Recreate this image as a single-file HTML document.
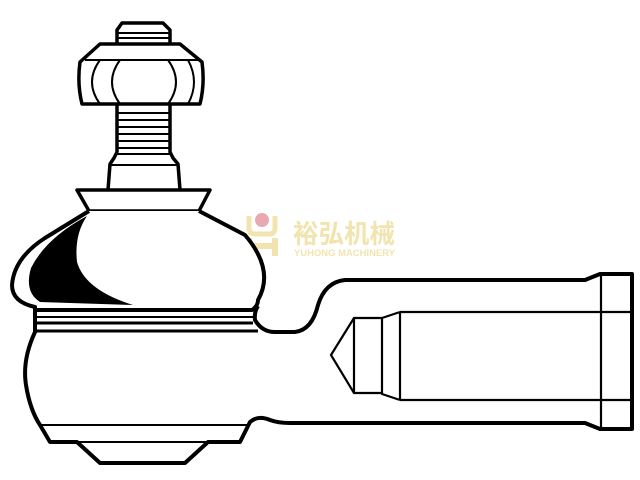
<!DOCTYPE html>
<html><head><meta charset="utf-8"><style>html,body{margin:0;padding:0;background:#fff;}svg{display:block}</style></head>
<body>
<svg width="640" height="480" viewBox="0 0 640 480" xmlns="http://www.w3.org/2000/svg">
<rect width="640" height="480" fill="#fff"/>
<g opacity="0.9">
<circle cx="262" cy="220" r="7" fill="#e6a1a8"/>
<path d="M249 216 v12 q0 6 6 6 h14 q6 0 6 -6 v-12" fill="none" stroke="#f0e2a6" stroke-width="5"/>
<path d="M249 238 v18 M275 238 v18 M249 246 h26" fill="none" stroke="#f0e2a6" stroke-width="6"/>
<text x="293" y="243" textLength="102" lengthAdjust="spacingAndGlyphs" font-family="'Noto Sans CJK SC',sans-serif" font-weight="bold" font-size="26" fill="#f0e2a6">裕弘机械</text>
<text x="294" y="256" textLength="101" lengthAdjust="spacingAndGlyphs" font-family="'Liberation Sans',sans-serif" font-weight="bold" font-size="9" fill="#f0e2a6">YUHONG MACHINERY</text>
</g>
<g fill="none" stroke="#000" stroke-linejoin="round">
<path d="M117 43 V30 L122 23 H163 L170 30 V43" stroke-width="3.5" fill="#fff"/>
<line x1="117" y1="33" x2="170" y2="33" stroke-width="2"/>
<line x1="117" y1="38" x2="170" y2="38" stroke-width="2"/>
<path d="M100 44 H180 L202 62 Q205 84 200 104 H82 Q77 84 80 62 Z" stroke-width="3.5" fill="#fff"/>
<line x1="85" y1="60" x2="198" y2="60" stroke-width="2"/>
<path d="M100 60 Q84 82 100 104 M120 60 Q104 82 120 104 M168 60 Q184 82 168 104 M188 60 Q200 82 188 104" stroke-width="2"/>
<path d="M117 105 V152 L114 158 L110 164 L108 190 M170 105 V152 L173 158 L178 164 L180 190" stroke-width="3.5"/>
<g stroke-width="2">
<line x1="117" y1="113" x2="170" y2="113"/><line x1="117" y1="120" x2="170" y2="120"/>
<line x1="117" y1="127" x2="170" y2="127"/><line x1="117" y1="134" x2="170" y2="134"/>
<line x1="117" y1="141" x2="170" y2="141"/><line x1="117" y1="148" x2="170" y2="148"/>
<line x1="117" y1="154" x2="170" y2="154"/><line x1="110" y1="165" x2="178" y2="165"/>
</g>
<path d="M77 190 H210 L199 211 H89 Z" stroke-width="3.5" fill="#fff"/>
<path d="M89 211 L45 238 Q14 258 12 285 Q12 302 35 307 L35 310 H252 Q258 306 258 300 Q275 270 245 235 L199 211" stroke-width="4" fill="#fff"/>
<path d="M87 216 Q46 238 31 268 Q24 292 40 302 L133 305 Q85 290 77 262 Q74 235 87 216 Z" fill="#000" stroke="none"/>
<line x1="35" y1="310" x2="253" y2="310" stroke-width="3"/>
<line x1="35" y1="317" x2="253" y2="317" stroke-width="2"/>
<line x1="35" y1="323" x2="253" y2="323" stroke-width="3"/>
<line x1="35" y1="331" x2="258" y2="331" stroke-width="3"/>
<line x1="35" y1="308" x2="35" y2="333" stroke-width="4"/>
<path d="M35 332 Q22 360 26 385 Q30 410 40 425 L50 442 H77 L100 463 H185 L208 442 H240 L250 422 Q258 415 270 420 Q278 423 290 423 H585 L600 429 H632 V274 H600 L585 280 H345 Q325 282 318 305 Q312 330 295 332 H275 Q262 332 255 320 Q254 312 258 306" stroke-width="4" fill="none"/>
<line x1="40" y1="425" x2="250" y2="425" stroke-width="2"/>
<line x1="77" y1="442" x2="208" y2="442" stroke-width="2"/>
<g stroke-width="2.2">
<line x1="601" y1="276" x2="601" y2="428"/>
<line x1="400" y1="312" x2="632" y2="312"/>
<line x1="400" y1="400" x2="632" y2="400"/>
<line x1="400" y1="312" x2="400" y2="400"/>
<path d="M400 312 L382 318 V394 L400 400"/>
<path d="M382 318 H354 L331 355 L354 393 H382"/>
<line x1="354" y1="318" x2="354" y2="393"/>
</g>
</g>
</svg>
</body></html>
